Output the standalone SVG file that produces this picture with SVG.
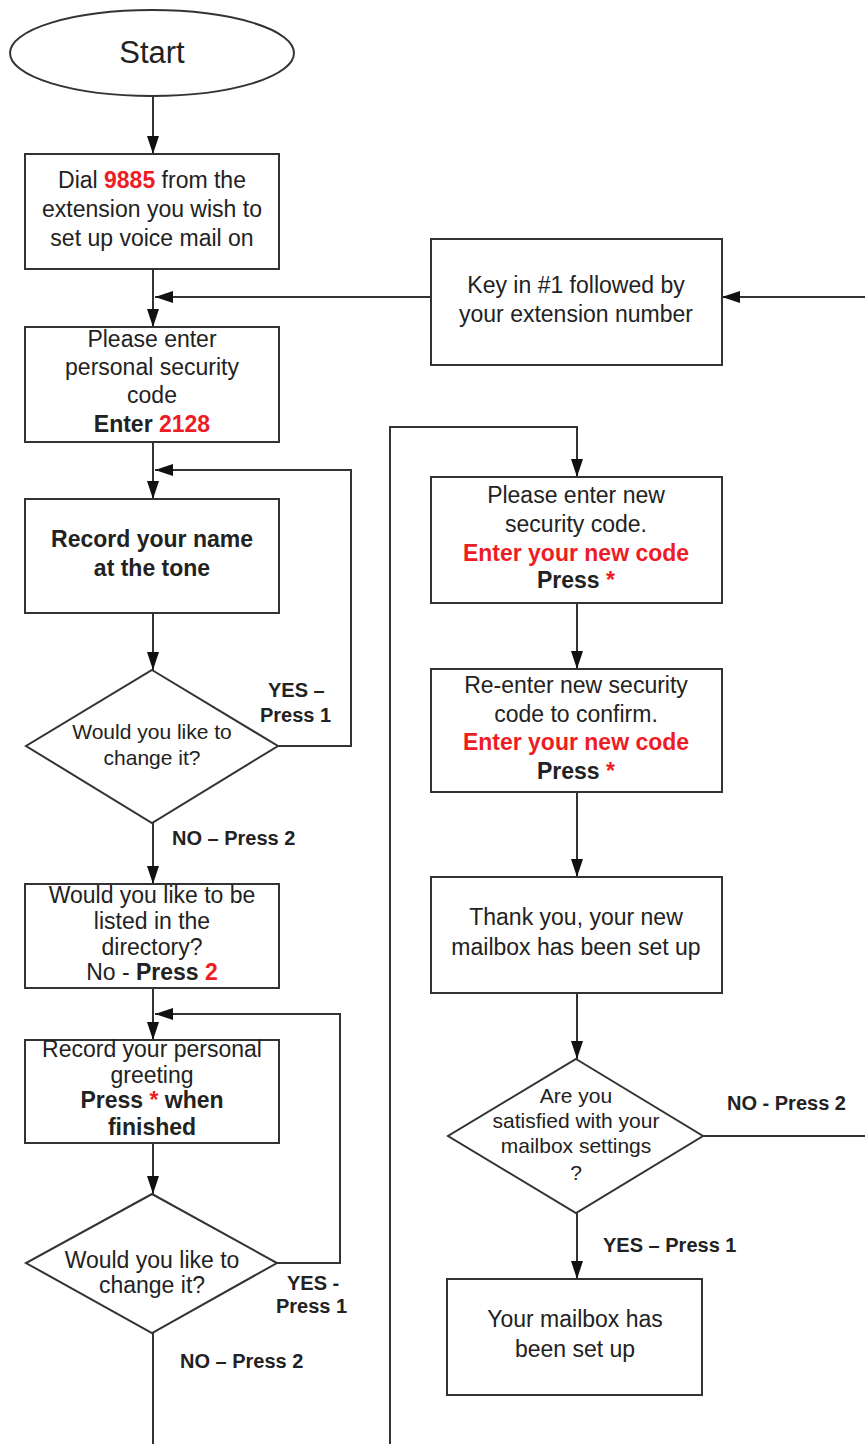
<svg xmlns="http://www.w3.org/2000/svg" width="865" height="1444" viewBox="0 0 865 1444">
<style>
.bg{fill:#ffffff}
.box{fill:#ffffff;stroke:#333333;stroke-width:2}
.ln{fill:none;stroke:#333333;stroke-width:2}
text{font-family:"Liberation Sans",Arial,sans-serif;fill:#222222;text-anchor:middle}
.t{font-size:23px}
.d{font-size:21px}
.lb{font-size:20px;font-weight:bold;text-anchor:start}
.b{font-weight:bold}
.r{fill:#ee1c25;font-weight:bold}
</style>
<defs>
<marker id="ah" markerUnits="userSpaceOnUse" markerWidth="18" markerHeight="12" refX="18" refY="6" orient="auto">
<path d="M0,0 L18,6 L0,12 z" fill="#111111"/>
</marker>
</defs>
<rect class="bg" x="0" y="0" width="865" height="1444"/>

<g id="connectors">
<path class="ln" d="M153,97 V154" marker-end="url(#ah)"/>
<path class="ln" d="M153,269 V327" marker-end="url(#ah)"/>
<path class="ln" d="M431,297 H155" marker-end="url(#ah)"/>
<path class="ln" d="M865,297 H722" marker-end="url(#ah)"/>
<path class="ln" d="M153,442 V499" marker-end="url(#ah)"/>
<path class="ln" d="M278,746 H351 V470 H155" marker-end="url(#ah)"/>
<path class="ln" d="M153,613 V670" marker-end="url(#ah)"/>
<path class="ln" d="M153,823 V884" marker-end="url(#ah)"/>
<path class="ln" d="M153,988 V1040" marker-end="url(#ah)"/>
<path class="ln" d="M277,1263 H340 V1014 H155" marker-end="url(#ah)"/>
<path class="ln" d="M153,1143 V1194" marker-end="url(#ah)"/>
<path class="ln" d="M153,1333 V1444"/>
<path class="ln" d="M390,1444 V427 H577 V477" marker-end="url(#ah)"/>
<path class="ln" d="M577,603 V669" marker-end="url(#ah)"/>
<path class="ln" d="M577,792 V877" marker-end="url(#ah)"/>
<path class="ln" d="M577,993 V1059" marker-end="url(#ah)"/>
<path class="ln" d="M577,1213 V1279" marker-end="url(#ah)"/>
<path class="ln" d="M703,1136 H865"/>
<text class="lb" x="268" y="697">YES –</text>
<text class="lb" x="260" y="722">Press 1</text>
<text class="lb" x="172" y="845">NO – Press 2</text>
<text class="lb" x="287" y="1290">YES -</text>
<text class="lb" x="276" y="1313">Press 1</text>
<text class="lb" x="180" y="1368">NO – Press 2</text>
<text class="lb" x="727" y="1110">NO - Press 2</text>
<text class="lb" x="603" y="1252">YES – Press 1</text>
</g>

<g id="start">
<ellipse class="box" cx="152" cy="53" rx="142" ry="43"/>
<text x="152" y="63" style="font-size:31px">Start</text>
</g>

<g id="dial">
<rect class="box" x="25" y="154" width="254" height="115"/>
<text class="t" x="152" y="188">Dial <tspan class="r">9885</tspan> from the</text>
<text class="t" x="152" y="217">extension you wish to</text>
<text class="t" x="152" y="246">set up voice mail on</text>
</g>

<g id="key">
<rect class="box" x="431" y="239" width="291" height="126"/>
<text class="t" x="576" y="293">Key in #1 followed by</text>
<text class="t" x="576" y="322">your extension number</text>
</g>

<g id="personal-code">
<rect class="box" x="25" y="327" width="254" height="115"/>
<text class="t" x="152" y="347">Please enter</text>
<text class="t" x="152" y="375">personal security</text>
<text class="t" x="152" y="403">code</text>
<text class="t" x="152" y="432"><tspan class="b">Enter </tspan><tspan class="r">2128</tspan></text>
</g>

<g id="record-name">
<rect class="box" x="25" y="499" width="254" height="114"/>
<text class="t b" x="152" y="547">Record your name</text>
<text class="t b" x="152" y="576">at the tone</text>
</g>

<g id="change1">
<polygon class="box" points="152,670 278,746 152,823 26,746"/>
<text class="d" x="152" y="739">Would you like to</text>
<text class="d" x="152" y="765">change it?</text>
</g>

<g id="directory">
<rect class="box" x="25" y="884" width="254" height="104"/>
<text class="t" x="152" y="903">Would you like to be</text>
<text class="t" x="152" y="929">listed in the</text>
<text class="t" x="152" y="955">directory?</text>
<text class="t" x="152" y="980">No - <tspan class="b">Press </tspan><tspan class="r">2</tspan></text>
</g>

<g id="greeting">
<rect class="box" x="25" y="1040" width="254" height="103"/>
<text class="t" x="152" y="1057">Record your personal</text>
<text class="t" x="152" y="1083">greeting</text>
<text class="t b" x="152" y="1108">Press <tspan class="r">*</tspan> when</text>
<text class="t b" x="152" y="1135">finished</text>
</g>

<g id="change2">
<polygon class="box" points="152,1194 277,1263 152,1333 26,1263"/>
<text class="t" x="152" y="1268">Would you like to</text>
<text class="t" x="152" y="1293">change it?</text>
</g>

<g id="new-code">
<rect class="box" x="431" y="477" width="291" height="126"/>
<text class="t" x="576" y="503">Please enter new</text>
<text class="t" x="576" y="532">security code.</text>
<text class="t r" x="576" y="561">Enter your new code</text>
<text class="t b" x="576" y="588">Press <tspan class="r">*</tspan></text>
</g>

<g id="reenter">
<rect class="box" x="431" y="669" width="291" height="123"/>
<text class="t" x="576" y="693">Re-enter new security</text>
<text class="t" x="576" y="722">code to confirm.</text>
<text class="t r" x="576" y="750">Enter your new code</text>
<text class="t b" x="576" y="779">Press <tspan class="r">*</tspan></text>
</g>

<g id="thank-you">
<rect class="box" x="431" y="877" width="291" height="116"/>
<text class="t" x="576" y="925">Thank you, your new</text>
<text class="t" x="576" y="955">mailbox has been set up</text>
</g>

<g id="satisfied">
<polygon class="box" points="576,1059 703,1136 576,1213 448,1136"/>
<text class="d" x="576" y="1103">Are you</text>
<text class="d" x="576" y="1128">satisfied with your</text>
<text class="d" x="576" y="1153">mailbox settings</text>
<text class="d" x="576" y="1180">?</text>
</g>

<g id="done">
<rect class="box" x="447" y="1279" width="255" height="116"/>
<text class="t" x="575" y="1327">Your mailbox has</text>
<text class="t" x="575" y="1357">been set up</text>
</g>
</svg>
